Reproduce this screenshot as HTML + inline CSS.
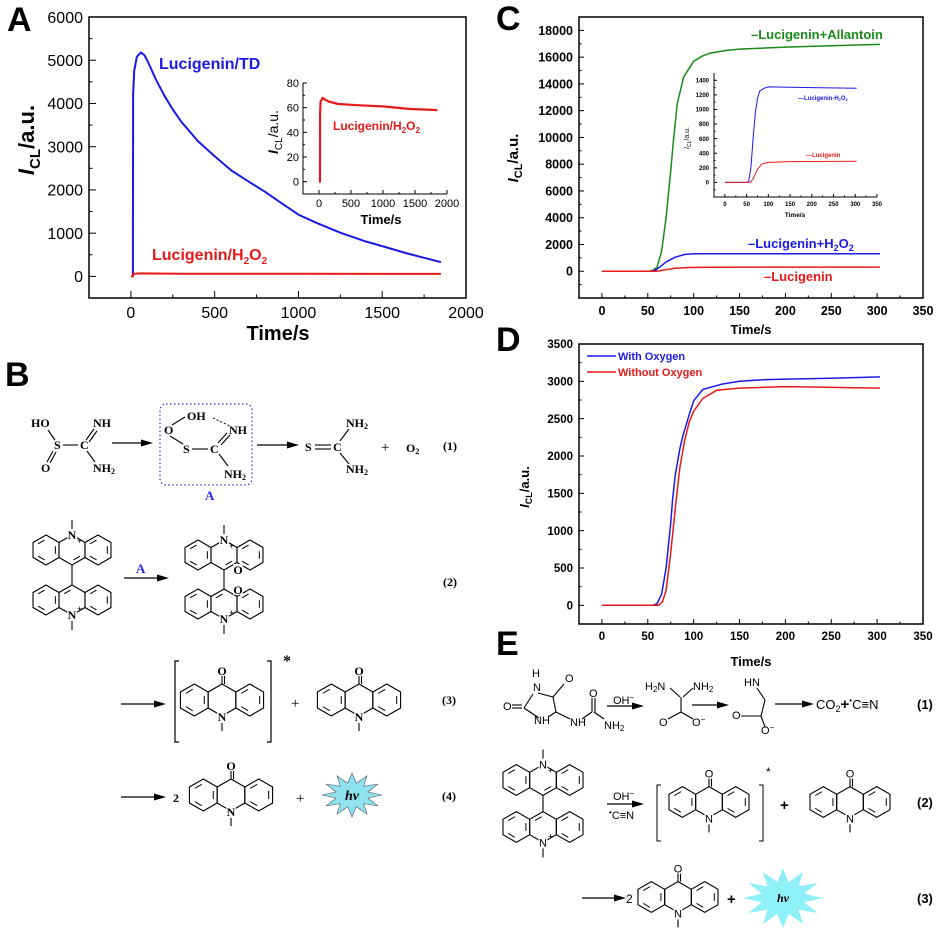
<!DOCTYPE html>
<html><head><meta charset="utf-8">
<style>
html,body{margin:0;padding:0;background:#fff;}
svg{display:block;}
.ser{font-family:"Liberation Serif",serif;font-weight:bold;}
.sans{font-family:"Liberation Sans",sans-serif;}
</style></head>
<body>
<svg id="fig" width="937" height="932" viewBox="0 0 937 932" xmlns="http://www.w3.org/2000/svg">
<rect width="937" height="932" fill="#fff"/>
<g id="gA"></g>
<g id="gAi"></g>
<g id="gC"></g>
<g id="gCi"></g>
<g id="gD"></g>
<g id="chem"></g>

<g class="sans" font-weight="bold" font-size="34" fill="#000">
<text x="7" y="31">A</text>
<text x="5" y="386">B</text>
<text x="496" y="30">C</text>
<text x="496" y="351">D</text>
<text x="496" y="655">E</text>
</g>

<g class="sans" font-weight="bold">
<text x="278" y="340" font-size="20" text-anchor="middle">Time/s</text>
<text transform="translate(34,140) rotate(-90)" font-size="22" text-anchor="middle"><tspan font-style="italic">I</tspan><tspan font-size="15" dy="6">CL</tspan><tspan dy="-6">/a.u.</tspan></text>
<text x="159" y="69" font-size="16" fill="#1a1ae6">Lucigenin/TD</text>
<text x="152" y="260" font-size="16" fill="#e61a1a">Lucigenin/H<tspan font-size="10" dy="4">2</tspan><tspan dy="-4">O</tspan><tspan font-size="10" dy="4">2</tspan></text>
<text x="381" y="224" font-size="13" text-anchor="middle">Time/s</text>
<text transform="translate(278,132) rotate(-90)" font-size="14" text-anchor="middle" font-weight="normal"><tspan font-style="italic" font-weight="bold">I</tspan><tspan font-size="10" dy="4">CL</tspan><tspan dy="-4">/a.u.</tspan></text>
<text x="333" y="130" font-size="12" fill="#e61a1a">Lucigenin/H<tspan font-size="8" dy="3">2</tspan><tspan dy="-3">O</tspan><tspan font-size="8" dy="3">2</tspan></text>
</g>

<g class="sans" font-weight="bold">
<text x="751" y="334" font-size="13" text-anchor="middle">Time/s</text>
<text transform="translate(518,158) rotate(-90)" font-size="15" text-anchor="middle"><tspan font-style="italic">I</tspan><tspan font-size="11" dy="4">CL</tspan><tspan dy="-4">/a.u.</tspan></text>
<text x="751" y="39" font-size="13" fill="#1a8a1a">–Lucigenin+Allantoin</text>
<text x="748" y="248" font-size="13" fill="#1a1ae6">–Lucigenin+H<tspan font-size="9" dy="3">2</tspan><tspan dy="-3">O</tspan><tspan font-size="9" dy="3">2</tspan></text>
<text x="764" y="281" font-size="13" fill="#e61a1a">–Lucigenin</text>
<text x="795" y="217" font-size="6.5" text-anchor="middle">Time/s</text>
<text transform="translate(689,138) rotate(-90)" font-size="7" text-anchor="middle" font-weight="normal"><tspan font-style="italic">I</tspan><tspan font-size="5" dy="2">CL</tspan><tspan dy="-2">/a.u.</tspan></text>
<text x="798" y="100" font-size="6" fill="#1a1ae6">—Lucigenin-H<tspan font-size="4" dy="1">2</tspan><tspan dy="-1">O</tspan><tspan font-size="4" dy="1">2</tspan></text>
<text x="806" y="157" font-size="6" fill="#e61a1a">—Lucigenin</text>
</g>

<g class="sans" font-weight="bold">
<text x="751" y="666" font-size="13" text-anchor="middle">Time/s</text>
<text transform="translate(529,487) rotate(-90)" font-size="13" text-anchor="middle"><tspan font-style="italic">I</tspan><tspan font-size="9" dy="3">CL</tspan><tspan dy="-3">/a.u.</tspan></text>
<line x1="587" y1="356" x2="616" y2="356" stroke="#1a1ae6" stroke-width="1.5"/>
<text x="618" y="360" font-size="11" fill="#1a1ae6">With Oxygen</text>
<line x1="587" y1="372" x2="616" y2="372" stroke="#e61a1a" stroke-width="1.5"/>
<text x="618" y="376" font-size="11" fill="#e61a1a">Without Oxygen</text>
</g>

<g class="ser" font-size="12" fill="#000">
<text x="31" y="427">HO</text>
<text x="93" y="427">NH</text>
<text x="54" y="449">S</text>
<text x="80" y="449">C</text>
<text x="41" y="472">O</text>
<text x="93" y="472">NH<tspan font-size="8" dy="2">2</tspan></text>
<text x="187" y="420">OH</text>
<text x="164" y="434">O</text>
<text x="229" y="434">NH</text>
<text x="183" y="453">S</text>
<text x="210" y="453">C</text>
<text x="224" y="478">NH<tspan font-size="8" dy="2">2</tspan></text>
<text x="205" y="500" fill="#2a2ae6" font-size="13">A</text>
<text x="305" y="451">S</text>
<text x="333" y="451">C</text>
<text x="346" y="427">NH<tspan font-size="8" dy="2">2</tspan></text>
<text x="346" y="473">NH<tspan font-size="8" dy="2">2</tspan></text>
<text x="381" y="452" font-weight="normal" font-size="15">+</text>
<text x="406" y="452">O<tspan font-size="8" dy="2">2</tspan></text>
<text x="443" y="450">(1)</text>
<text x="136" y="573" fill="#2a2ae6" font-size="13">A</text>
<text x="443" y="586">(2)</text>
<text x="283" y="666" font-size="16">*</text>
<text x="291" y="708" font-weight="normal" font-size="15">+</text>
<text x="442" y="704">(3)</text>
<text x="173" y="802">2</text>
<text x="296" y="803" font-weight="normal" font-size="15">+</text>
<text x="442" y="800">(4)</text>
</g>

<g class="sans" font-size="11" fill="#000">
<text x="532" y="677">H</text>
<text x="533" y="691">N</text>
<text x="565" y="682">O</text>
<text x="503" y="710">O</text>
<text x="534" y="724">NH</text>
<text x="570" y="726">NH</text>
<text x="589" y="697">O</text>
<text x="604" y="729">NH<tspan font-size="8" dy="2">2</tspan></text>
<text x="613" y="704">OH<tspan font-size="8" dy="-4">−</tspan></text>
<text x="645" y="690">H<tspan font-size="8" dy="2">2</tspan><tspan dy="-2">N</tspan></text>
<text x="693" y="690">NH<tspan font-size="8" dy="2">2</tspan></text>
<text x="659" y="726">O</text>
<text x="692" y="726">O<tspan font-size="8" dy="-4">−</tspan></text>
<text x="744" y="686">HN</text>
<text x="732" y="719">O</text>
<text x="761" y="734">O<tspan font-size="8" dy="-4">−</tspan></text>
<text x="816" y="709" font-size="13">CO<tspan font-size="9" dy="3">2</tspan><tspan dy="-3" font-size="15" font-weight="bold">+</tspan><tspan font-size="8" dy="-6">•</tspan><tspan dy="6">C≡N</tspan></text>
<text x="917" y="709" font-size="13" font-weight="bold">(1)</text>
<text x="613" y="800">OH<tspan font-size="8" dy="-4">−</tspan></text>
<text x="609" y="819"><tspan font-size="8" dy="-4">•</tspan><tspan dy="4">C≡N</tspan></text>
<text x="766" y="776" font-size="12">*</text>
<text x="780" y="810" font-size="15" font-weight="bold">+</text>
<text x="917" y="807" font-size="13" font-weight="bold">(2)</text>
<text x="626" y="903" font-size="12">2</text>
<text x="727" y="904" font-size="15" font-weight="bold">+</text>
<text x="917" y="903" font-size="13" font-weight="bold">(3)</text>
</g>
</svg>

<script>
// ---------- DATA ----------
const aBlueT = [12, 13, 20, 35, 60, 80, 100, 150, 200, 250, 300, 400, 500, 600, 700, 800, 900, 1000, 1100, 1250, 1400, 1500, 1650, 1750, 1850];
const aBlueV = [0, 4200, 4750, 5080, 5180, 5120, 4980, 4550, 4180, 3860, 3580, 3130, 2780, 2450, 2200, 1960, 1690, 1430, 1250, 1010, 810, 700, 530, 430, 330];
const aRedT = [0, 12, 15, 60, 300, 1000, 1850];
const aRedV = [0, 0, 60, 68, 63, 61, 58];
const aInT = [0, 15, 17, 25, 60, 80, 150, 300, 600, 1000, 1400, 1850];
const aInV = [0, 0, 55, 65, 68, 67, 65, 63, 62, 61, 59, 58];
const cGreenT = [0, 50, 55, 60, 65, 70, 75, 78, 82, 89, 100, 110, 118, 135, 150, 200, 250, 303];
const cGreenV = [0, 0, 50, 300, 1500, 4000, 7500, 9800, 12500, 14500, 15700, 16100, 16300, 16500, 16600, 16750, 16850, 16950];
const cBlueT = [0, 55, 60, 70, 80, 90, 100, 303];
const cBlueV = [0, 0, 150, 700, 1050, 1250, 1300, 1310];
const cRedT = [0, 60, 70, 80, 95, 120, 303];
const cRedV = [0, 0, 120, 220, 280, 300, 310];
const ciBlueT = [0, 50, 55, 60, 65, 70, 75, 80, 90, 100, 200, 303];
const ciBlueV = [0, 0, 20, 200, 600, 950, 1150, 1250, 1290, 1310, 1300, 1290];
const ciRedT = [0, 58, 65, 75, 85, 100, 150, 303];
const ciRedV = [0, 0, 50, 180, 250, 275, 285, 290];
const dBlueT = [0, 55, 60, 65, 70, 75, 77, 80, 85, 88, 95, 100, 110, 130, 150, 175, 200, 250, 303];
const dBlueV = [0, 0, 20, 150, 500, 1100, 1420, 1750, 2100, 2260, 2550, 2740, 2890, 2960, 3000, 3020, 3030, 3040, 3060];
const dRedT = [0, 62, 66, 70, 75, 80, 85, 90, 95, 100, 110, 125, 150, 200, 303];
const dRedV = [0, 0, 50, 200, 700, 1300, 1850, 2200, 2450, 2600, 2770, 2880, 2910, 2930, 2910];
const aXTicks = [0, 500, 1000, 1500, 2000];
const aYTicks = [0, 1000, 2000, 3000, 4000, 5000, 6000];
const aiXTicks = [0, 500, 1000, 1500, 2000];
const aiYTicks = [0, 20, 40, 60, 80];
const cXTicks = [0, 50, 100, 150, 200, 250, 300, 350];
const cYTicks = [0, 2000, 4000, 6000, 8000, 10000, 12000, 14000, 16000, 18000];
const ciYTicks = [0, 200, 400, 600, 800, 1000, 1200, 1400];
const dYTicks = [0, 500, 1000, 1500, 2000, 2500, 3000, 3500];

const NS = "http://www.w3.org/2000/svg";
function mk(tag, attrs, name, parent) {
  const el = document.createElementNS(NS, tag);
  for (const k in attrs) el.setAttribute(k, attrs[k]);
  
  
  parent.appendChild(el);
  return el;
}

function chart(g, o) {
  const sx = v => o.x0 + (v - o.xmin) / (o.xmax - o.xmin) * (o.x1 - o.x0);
  const sy = v => o.y1 - (v - o.ymin) / (o.ymax - o.ymin) * (o.y1 - o.y0);
  mk('rect', {x: o.x0, y: o.y0, width: o.x1 - o.x0, height: o.y1 - o.y0, fill: 'none', stroke: '#000', 'stroke-width': o.bw}, o.p + '-plot-frame', g);
  const tl = o.tl;
  o.xt.forEach((v, i) => {
    const x = sx(v);
    mk('line', {x1: x, y1: o.y1, x2: x, y2: o.y1 - tl, stroke: '#000', 'stroke-width': 1}, o.p + '-x-tick', g);
    const t = mk('text', {x: x, y: o.xly, 'text-anchor': 'middle', 'font-size': o.fs, 'font-family': 'Liberation Sans, sans-serif', 'font-weight': o.fw}, o.p + '-x-tick-label', g);
    t.textContent = String(v);
    if (i < o.xt.length - 1) {
      const m = sx((v + o.xt[i + 1]) / 2);
      mk('line', {x1: m, y1: o.y1, x2: m, y2: o.y1 - tl / 2, stroke: '#000', 'stroke-width': 1}, o.p + '-x-minor-tick', g);
    }
  });
  o.yt.forEach((v, i) => {
    const y = sy(v);
    mk('line', {x1: o.x0, y1: y, x2: o.x0 + tl, y2: y, stroke: '#000', 'stroke-width': 1}, o.p + '-y-tick', g);
    const t = mk('text', {x: o.ylx, y: y + o.fs * 0.36, 'text-anchor': 'end', 'font-size': o.fs, 'font-family': 'Liberation Sans, sans-serif', 'font-weight': o.fw}, o.p + '-y-tick-label', g);
    t.textContent = String(v);
    const step = i < o.yt.length - 1 ? o.yt[i + 1] - v : o.yt[1] - o.yt[0];
    const m = sy(v + step / 2);
    if (m > o.y0) mk('line', {x1: o.x0, y1: m, x2: o.x0 + tl / 2, y2: m, stroke: '#000', 'stroke-width': 1}, o.p + '-y-minor-tick', g);
    if (i === 0) { const m2 = sy(v - step / 2); if (m2 < o.y1) mk('line', {x1: o.x0, y1: m2, x2: o.x0 + tl / 2, y2: m2, stroke: '#000', 'stroke-width': 1}, o.p + '-y-minor-tick', g); }
  });
  o.series.forEach(s => {
    const pts = s.t.map((t, i) => sx(t).toFixed(1) + ',' + sy(s.v[i]).toFixed(1)).join(' ');
    mk('polyline', {points: pts, fill: 'none', stroke: s.c, 'stroke-width': s.w, 'stroke-linejoin': 'round'}, s.n, g);
  });
}

chart(document.getElementById('gA'), {p: 'a', x0: 89, x1: 466, y0: 17, y1: 298, xmin: -250, xmax: 2000, ymin: -500, ymax: 6000, xt: aXTicks, yt: aYTicks, tl: 7, bw: 1.5, fs: 16, fw: 'normal', xly: 318, ylx: 83,
  series: [{t: aBlueT, v: aBlueV, c: '#1a1ae6', w: 2, n: 'a-series-lucigenin-td'}, {t: aRedT, v: aRedV, c: '#e61a1a', w: 2, n: 'a-series-lucigenin-h2o2'}]});
chart(document.getElementById('gAi'), {p: 'a-inset', x0: 303, x1: 447, y0: 83, y1: 194, xmin: -250, xmax: 2000, ymin: -10, ymax: 80, xt: aiXTicks, yt: aiYTicks, tl: 4, bw: 1, fs: 11, fw: 'normal', xly: 207, ylx: 299,
  series: [{t: aInT, v: aInV, c: '#e61a1a', w: 2.2, n: 'a-inset-series-h2o2'}]});
chart(document.getElementById('gC'), {p: 'c', x0: 579, x1: 923, y0: 17, y1: 298, xmin: -25, xmax: 350, ymin: -2000, ymax: 19000, xt: cXTicks, yt: cYTicks, tl: 5, bw: 1.5, fs: 12.5, fw: 'bold', xly: 315, ylx: 573,
  series: [{t: cGreenT, v: cGreenV, c: '#1a8a1a', w: 1.5, n: 'c-series-allantoin'}, {t: cBlueT, v: cBlueV, c: '#1a1ae6', w: 1.5, n: 'c-series-h2o2'}, {t: cRedT, v: cRedV, c: '#e61a1a', w: 1.5, n: 'c-series-lucigenin'}]});
chart(document.getElementById('gCi'), {p: 'c-inset', x0: 714, x1: 877, y0: 73, y1: 197, xmin: -25, xmax: 350, ymin: -200, ymax: 1500, xt: cXTicks, yt: ciYTicks, tl: 3, bw: 0.8, fs: 6, fw: 'bold', xly: 206, ylx: 709,
  series: [{t: ciBlueT, v: ciBlueV, c: '#1a1ae6', w: 1, n: 'c-inset-series-h2o2'}, {t: ciRedT, v: ciRedV, c: '#e61a1a', w: 1, n: 'c-inset-series-lucigenin'}]});
document.querySelectorAll('#gAi rect, #gCi rect').forEach(r => { r.setAttribute('stroke', 'none'); });
[['gAi', 303, 83, 303, 194, 447, 194], ['gCi', 714, 73, 714, 197, 877, 197]].forEach(a => {
  mk('polyline', {points: a[1] + ',' + a[2] + ' ' + a[3] + ',' + a[4] + ' ' + a[5] + ',' + a[6], fill: 'none', stroke: '#000', 'stroke-width': 1}, 'inset-axes', document.getElementById(a[0]));
});
chart(document.getElementById('gD'), {p: 'd', x0: 579, x1: 923, y0: 344, y1: 624, xmin: -25, xmax: 350, ymin: -250, ymax: 3500, xt: cXTicks, yt: dYTicks, tl: 5, bw: 1.5, fs: 11.5, fw: 'bold', xly: 640, ylx: 573,
  series: [{t: dBlueT, v: dBlueV, c: '#1a1ae6', w: 1.5, n: 'd-series-with-oxygen'}, {t: dRedT, v: dRedV, c: '#e61a1a', w: 1.5, n: 'd-series-without-oxygen'}]});

// ---------- CHEMISTRY ----------
const C = document.getElementById('chem');
function ln(x1, y1, x2, y2, name, w, dash) {
  const a = {x1: x1, y1: y1, x2: x2, y2: y2, stroke: '#000', 'stroke-width': w || 1.1};
  if (dash) a['stroke-dasharray'] = dash;
  mk('line', a, name, C);
}
function arrow(x1, x2, y, name) {
  ln(x1, y, x2 - 8, y, name, 1.3);
  mk('polygon', {points: (x2 - 12) + ',' + (y - 3.5) + ' ' + x2 + ',' + y + ' ' + (x2 - 12) + ',' + (y + 3.5)}, name + '-head', C);
}
function hex(cx, cy, r, inner, name) {
  const v = [];
  for (let k = 0; k < 6; k++) { const a = (-90 + 60 * k) * Math.PI / 180; v.push([cx + r * Math.cos(a), cy + r * Math.sin(a)]); }
  mk('polygon', {points: v.map(p => p.join(',')).join(' '), fill: 'none', stroke: '#000', 'stroke-width': 1.1}, name, C);
  inner.forEach(k => {
    const p = v[k], q = v[(k + 1) % 6], f = 0.72;
    const a = [cx + (p[0] - cx) * f, cy + (p[1] - cy) * f], b = [cx + (q[0] - cx) * f, cy + (q[1] - cy) * f];
    const s = 0.15;
    ln(a[0] + (b[0] - a[0]) * s, a[1] + (b[1] - a[1]) * s, b[0] - (b[0] - a[0]) * s, b[1] - (b[1] - a[1]) * s, name + '-double-bond', 1);
  });
}
function label(x, y, s, name, fs, serif) {
  mk('rect', {x: x - fs * 0.4, y: y - fs * 0.5, width: fs * 0.8, height: fs * 0.9, fill: '#fff'}, name + '-bg', C);
  const t = mk('text', {x: x, y: y + fs * 0.35, 'text-anchor': 'middle', 'font-size': fs, 'font-family': serif ? 'Liberation Serif, serif' : 'Liberation Sans, sans-serif', 'font-weight': serif ? 'bold' : 'normal'}, name, C);
  t.textContent = s;
}
function acridone(cx, cy, r, serif, name) {
  const w = r * Math.sqrt(3);
  hex(cx - w, cy, r, [1, 3, 5], name + '-left-ring');
  hex(cx, cy, r, [], name + '-center-ring');
  hex(cx + w, cy, r, [1, 3, 5], name + '-right-ring');
  ln(cx, cy - r, cx, cy - r - 8, name + '-carbonyl', 1.1);
  ln(cx + 2.5, cy - r, cx + 2.5, cy - r - 8, name + '-carbonyl2', 1.1);
  label(cx, cy - r - 13, 'O', name + '-o', serif ? 12 : 11, serif);
  label(cx, cy + r + 1, 'N', name + '-n', serif ? 12 : 11, serif);
  ln(cx, cy + r + 7, cx, cy + r + 15, name + '-methyl', 1.1);
}
function acridinium(cx, cy, r, up, serif, name) {
  const w = r * Math.sqrt(3);
  hex(cx - w, cy, r, [1, 3, 5], name + '-left-ring');
  hex(cx, cy, r, up ? [2] : [5], name + '-center-ring');
  hex(cx + w, cy, r, [1, 3, 5], name + '-right-ring');
  const ny = up ? cy - r : cy + r;
  label(cx, ny, 'N', name + '-n', serif ? 12 : 11, serif);
  const t = mk('text', {x: cx + 5, y: up ? ny + 9 : ny - 3, 'font-size': 9, 'font-family': 'Liberation Sans, sans-serif'}, name + '-charge', C);
  t.textContent = '+';
  if (up) ln(cx, ny - 6, cx, ny - 15, name + '-methyl', 1.1); else ln(cx, ny + 6, cx, ny + 15, name + '-methyl', 1.1);
}
function star(cx, cy, rx, ry, n, fill, name) {
  const pts = [];
  for (let k = 0; k < 2 * n; k++) {
    const a = k * Math.PI / n - Math.PI / 2, f = k % 2 ? 0.55 : 1;
    pts.push((cx + rx * f * Math.cos(a)).toFixed(1) + ',' + (cy + ry * f * Math.sin(a)).toFixed(1));
  }
  mk('polygon', {points: pts.join(' '), fill: fill, stroke: fill === '#8fe3ee' ? '#556' : 'none', 'stroke-width': 0.6}, name, C);
}

ln(48, 430, 55, 440, 'b1-bond-ho-s'); ln(63, 445, 78, 445, 'b1-bond-s-c');
ln(53, 451, 47, 462, 'b1-bond-s-o'); ln(56, 452, 50, 463, 'b1-bond-s-o2');
ln(86, 440, 94, 429, 'b1-bond-c-nh'); ln(89, 442, 97, 431, 'b1-bond-c-nh2');
ln(87, 451, 95, 462, 'b1-bond-c-nh2b');
arrow(112, 153, 443, 'b1-arrow1');
mk('rect', {x: 160, y: 404, width: 92, height: 81, rx: 6, fill: 'none', stroke: '#3333dd', 'stroke-width': 1.2, 'stroke-dasharray': '1.5,2.5'}, 'intermediate-a-box', C);
ln(172, 425, 185, 417, 'ba-bond-o-oh'); ln(170, 436, 183, 444, 'ba-bond-o-s');
ln(192, 449, 208, 449, 'ba-bond-s-c'); ln(218, 443, 227, 433, 'ba-bond-c-nh');
ln(221, 445, 230, 435, 'ba-bond-c-nh-2'); ln(219, 454, 228, 466, 'ba-bond-c-nh2');
ln(213, 418, 230, 426, 'ba-hbond', 1, '2,2');
arrow(257, 299, 445, 'b1-arrow2');
ln(315, 445, 331, 445, 'b1-s-c-double1'); ln(315, 449, 331, 449, 'b1-s-c-double2');
ln(340, 441, 349, 429, 'b1-c-nh2-top'); ln(340, 453, 349, 464, 'b1-c-nh2-bottom');
acridinium(72, 550, 15, true, true, 'lucigenin-top');
acridinium(72, 600, 15, false, true, 'lucigenin-bottom');
ln(72, 565, 72, 585, 'lucigenin-central-bond');
arrow(124, 169, 578, 'b2-arrow');
acridinium(224, 555, 15, true, true, 'dioxetane-top');
acridinium(224, 604, 15, false, true, 'dioxetane-bottom');
label(238, 570, 'O', 'dioxetane-o1', 12, true); label(238, 590, 'O', 'dioxetane-o2', 12, true);
ln(224, 570, 224, 589, 'dioxetane-cc');
arrow(121, 166, 704, 'b3-arrow');
mk('polyline', {points: '179,661 175,661 175,742 179,742', fill: 'none', stroke: '#000', 'stroke-width': 1.2}, 'b3-bracket-left', C);
mk('polyline', {points: '267,661 271,661 271,742 267,742', fill: 'none', stroke: '#000', 'stroke-width': 1.2}, 'b3-bracket-right', C);
acridone(222, 700, 16, true, 'b3-acridone-excited');
acridone(359, 700, 16, true, 'b3-acridone');
arrow(121, 166, 797, 'b4-arrow');
acridone(231, 795, 16, true, 'b4-acridone');
star(352, 795, 30, 22, 12, '#8fe3ee', 'b4-light-burst');
mk('text', {x: 352, y: 800, 'text-anchor': 'middle', 'font-size': 14, 'font-style': 'italic', 'font-weight': 'bold', 'font-family': 'Liberation Serif, serif'}, 'b4-hv', C).textContent = 'hv';
ln(538, 693, 553, 697, 'e1-ring-1'); ln(553, 697, 556, 712, 'e1-ring-2'); ln(556, 712, 548, 717, 'e1-ring-3');
ln(539, 718, 524, 708, 'e1-ring-4'); ln(524, 708, 533, 694, 'e1-ring-5');
ln(553, 697, 564, 684, 'e1-co'); ln(512, 705, 522, 705, 'e1-co2'); ln(512, 708, 522, 708, 'e1-co2b');
ln(556, 712, 570, 719, 'e1-c-nh'); ln(582, 719, 592, 712, 'e1-nh-c'); ln(592, 712, 592, 698, 'e1-c-o');
ln(595, 712, 595, 698, 'e1-c-o2'); ln(594, 712, 604, 719, 'e1-c-nh2');
arrow(607, 644, 706, 'e1-arrow1');
ln(670, 688, 680, 697, 'e1-ch-a'); ln(693, 688, 683, 697, 'e1-ch-b'); ln(681, 697, 681, 712, 'e1-ch-c');
ln(681, 712, 668, 719, 'e1-co-a'); ln(681, 712, 693, 719, 'e1-co-b');
arrow(692, 729, 705, 'e1-arrow2');
ln(757, 688, 765, 700, 'e1-cn'); ln(765, 700, 761, 716, 'e1-cc'); ln(761, 716, 741, 716, 'e1-co3'); ln(761, 716, 765, 727, 'e1-co4');
arrow(775, 814, 704, 'e1-arrow3');
acridinium(543, 780, 15.4, true, false, 'e2-lucigenin-top');
acridinium(543, 827, 15.4, false, false, 'e2-lucigenin-bottom');
ln(543, 795, 543, 812, 'e2-central-bond');
arrow(607, 644, 804, 'e2-arrow');
mk('polyline', {points: '661,785 657,785 657,841 661,841', fill: 'none', stroke: '#000', 'stroke-width': 1}, 'e2-bracket-left', C);
mk('polyline', {points: '759,785 763,785 763,841 759,841', fill: 'none', stroke: '#000', 'stroke-width': 1}, 'e2-bracket-right', C);
acridone(709, 802, 15.4, false, 'e2-acridone-excited');
acridone(850, 802, 15.4, false, 'e2-acridone');
arrow(582, 626, 898, 'e3-arrow');
acridone(678, 897, 15.4, false, 'e3-acridone');
star(783, 898, 40, 30, 12, '#8ff0f8', 'e3-light-burst');
mk('text', {x: 783, y: 902, 'text-anchor': 'middle', 'font-size': 12, 'font-style': 'italic', 'font-weight': 'bold', 'font-family': 'Liberation Serif, serif'}, 'e3-hv', C).textContent = 'hv';
</script>
</body></html>
